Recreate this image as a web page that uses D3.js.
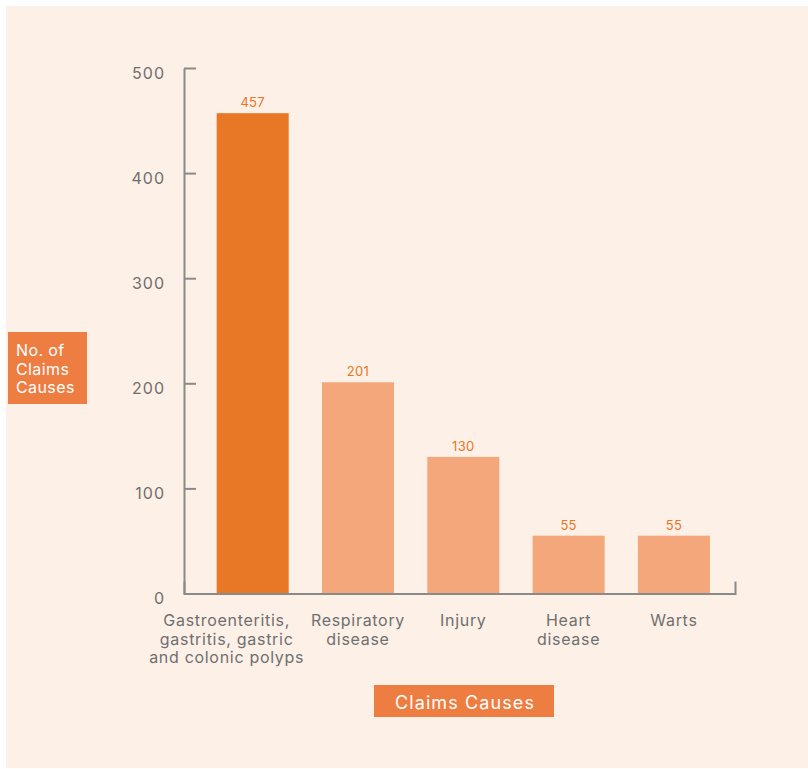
<!DOCTYPE html>
<html>
<head>
<meta charset="utf-8">
<script src="https://cdn.jsdelivr.net/npm/d3@7"></script>
<style>
  html, body { margin: 0; padding: 0; background: #ffffff; }
  svg { display: block; }
  text { font-family: "Inter", "Lato", sans-serif; }
</style>
</head>
<body>
<svg id="chart" width="808" height="769"></svg>
<script>
// ---- data ----
const categories = [
  ["Gastroenteritis,", "gastritis, gastric", "and colonic polyps"],
  ["Respiratory", "disease"],
  ["Injury"],
  ["Heart", "disease"],
  ["Warts"]
];
const claimCounts = [457, 201, 130, 55, 55];
const yTicks = [0, 100, 200, 300, 400, 500];
const yTitleLines = ["No. of", "Claims", "Causes"];
const xTitle = "Claims Causes";

// ---- styles ----
const bg = "#fdf0e7";
const darkOrange = "#e87726";
const lightOrange = "#f3a77a";
const boxOrange = "#ee7d42";
const axisGray = "#8a8a8a";
const textGray = "#6f6f6f";

const svg = d3.select("#chart");
svg.append("rect").attr("x", 6).attr("y", 6).attr("width", 802).attr("height", 762).attr("fill", bg);

const axisX0 = 184, axisX1 = 735;
const y = d3.scaleLinear().domain([0, 500]).range([593.5, 68]);
const x = d3.scaleBand().domain(d3.range(categories.length))
  .range([195.6, 731]).paddingInner(0.316).paddingOuter(0.2);

// y axis (ticks inward)
const yAxis = d3.axisLeft(y).tickValues(yTicks).tickSize(-12).tickSizeOuter(0).tickPadding(0);
const gy = svg.append("g").attr("transform", `translate(${axisX0},0)`).call(yAxis);
gy.select(".domain").attr("stroke", axisGray).attr("stroke-width", 2);
gy.selectAll(".tick line").attr("stroke", axisGray).attr("stroke-width", 2);
gy.selectAll(".tick text")
  .attr("x", -19).attr("dy", "0.38em").attr("y", 4)
  .attr("fill", textGray).attr("font-size", 16).attr("letter-spacing", "1px")
  .style("font-family", "Inter, Lato, sans-serif");

// bars
svg.selectAll("rect.bar").data(claimCounts).join("rect")
  .attr("class", "bar")
  .attr("x", (d, i) => x(i))
  .attr("y", d => y(d))
  .attr("width", x.bandwidth())
  .attr("height", d => y(0) - y(d))
  .attr("fill", (d, i) => i === 0 ? darkOrange : lightOrange);

// value labels
svg.selectAll("text.val").data(claimCounts).join("text")
  .attr("class", "val")
  .attr("x", (d, i) => x(i) + x.bandwidth() / 2)
  .attr("y", d => y(d) - 6)
  .attr("text-anchor", "middle")
  .attr("font-size", 13)
  .attr("letter-spacing", "0.3px")
  .attr("fill", darkOrange)
  .text(d => d);

// x axis baseline (with upward outer tick)
const xLine = d3.scaleLinear().domain([0, 1]).range([axisX0, axisX1]);
const xAxis = d3.axisBottom(xLine).tickValues([]).tickSizeOuter(-12);
const gx = svg.append("g").attr("transform", `translate(0,${y(0)})`).call(xAxis);
gx.select(".domain").attr("stroke", axisGray).attr("stroke-width", 2);

// category labels
const labelShift = (i) => i === 0 ? -26 : 0;
const catG = svg.selectAll("text.cat").data(categories).join("text")
  .attr("class", "cat")
  .attr("text-anchor", "middle")
  .attr("fill", textGray)
  .attr("font-size", 16)
  .attr("letter-spacing", "0.7px");
catG.selectAll("tspan").data((d, i) => d.map(s => ({ s, i }))).join("tspan")
  .attr("x", d => x(d.i) + x.bandwidth() / 2 + labelShift(d.i))
  .attr("y", (d, j) => 626 + j * 18.5)
  .text(d => d.s);

// y title box
svg.append("rect").attr("x", 8).attr("y", 332).attr("width", 79).attr("height", 72).attr("fill", boxOrange);
svg.append("text").attr("fill", "#ffffff").attr("font-size", 16).attr("letter-spacing", "0.4px")
  .selectAll("tspan").data(yTitleLines).join("tspan")
  .attr("x", 16).attr("y", (d, i) => 356 + i * 18.5).text(d => d);

// x title box
svg.append("rect").attr("x", 374).attr("y", 685).attr("width", 180).attr("height", 32).attr("fill", boxOrange);
svg.append("text").attr("x", 465).attr("y", 708.5).attr("text-anchor", "middle")
  .attr("fill", "#ffffff").attr("font-size", 18).attr("letter-spacing", "1.1px").text(xTitle);
</script>
</body>
</html>
